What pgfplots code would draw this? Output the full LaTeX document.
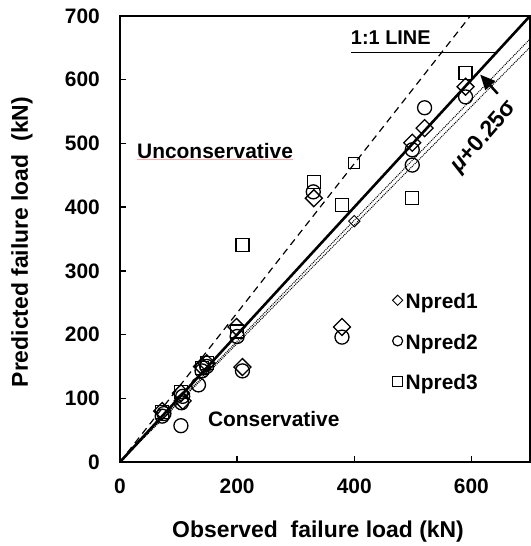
\documentclass[border=0pt]{standalone}
\usepackage{fontspec}
\setmainfont{Liberation Sans}
\usepackage{pgfplots}
\pgfplotsset{compat=1.18}
\usetikzlibrary{arrows.meta}

\begin{document}
\begin{tikzpicture}
\begin{axis}[
  at={(0,0)}, anchor=south west,
  scale only axis, width=410bp, height=446bp,
  xmin=0, xmax=700, ymin=0, ymax=700,
  xtick={0,200,400,600}, ytick={0,100,...,700},
  xtick pos=bottom, ytick pos=left, tick align=inside,
  major tick length=6bp,
  axis line style={line width=2bp},
  every tick/.style={black, line width=1.5bp},
  /pgf/number format/assume math mode=true,
  ticklabel style={font=\fontsize{21}{24}\selectfont\bfseries, inner sep=0pt},
  yticklabel style={xshift=-20bp},
  xticklabel style={yshift=-17bp},
  xlabel={Observed\ \ failure load (kN)},
  ylabel={Predicted failure load\ \ (kN)},
  label style={font=\fontsize{23}{26}\selectfont\bfseries},
  xlabel style={at={(axis description cs:0.483,-0.155)}, anchor=center},
  ylabel style={at={(axis description cs:-0.239,0.493)}, anchor=center},
  clip=false,
  legend style={draw=none, fill=none, at={(axis cs:465,268)}, anchor=north west,
    font=\fontsize{21}{24}\selectfont\bfseries, row sep=20bp, inner sep=0pt,
    /tikz/every odd column/.append style={column sep=1bp}},
  legend cell align=left,
  legend image code/.code={\draw[#1] plot coordinates {(0bp,1.5bp)};},
]
% reference lines
\addplot[line width=2.6bp, forget plot] coordinates {(0,0) (700,700)};
\addplot[line width=1.2bp, dash pattern=on 7bp off 5bp, forget plot] coordinates {(0,0) (598,700)};
\addplot[densely dotted, line width=1bp, forget plot] coordinates {(0,0) (700,664)};
\addplot[densely dotted, line width=1bp, forget plot] coordinates {(0,0) (700,651)};

% Npred1
\addplot[only marks, mark=square, mark size=6bp, mark options={rotate=45, line width=1.3bp}, forget plot] coordinates {
(72,80) (104,108) (107,96) (140,150) (148,155) (199,212) (209,149) (331,414)
(379,212) (499,501) (520,524) (590,589)};
\addplot[only marks, mark=square, mark size=4bp, mark options={rotate=45, line width=1bp}, forget plot] coordinates {(400,378)};
% Npred2
\addplot[only marks, mark=o, mark size=7bp, mark options={line width=1.3bp}, forget plot] coordinates {
(72,72) (75,76) (104,57) (105,93) (107,103) (134,121) (140,143) (148,150)
(200,197) (209,143) (330,424) (379,196) (499,466) (499,490) (520,556) (590,573)};
% Npred3
\addplot[only marks, mark=square, mark size=6.5bp, mark options={line width=1.3bp}, forget plot] coordinates {
(72,79) (104,110) (140,148) (148,155) (200,205) (209,341) (331,440) (379,403)
(498,414) (590,611)};
\addplot[only marks, mark=square, mark size=5.5bp, mark options={line width=1.1bp}, forget plot] coordinates {(399,469)};

\addlegendimage{mark=square, mark size=3.6bp, mark options={rotate=45, line width=1bp}}
\addlegendentry{Npred1}
\addlegendimage{mark=o, mark size=5bp, mark options={line width=1.2bp}}
\addlegendentry{Npred2}
\addlegendimage{mark=square, mark size=5bp, mark options={line width=1.2bp}}
\addlegendentry{Npred3}

% annotations
\node[anchor=west, inner sep=0pt, font=\fontsize{21}{24}\selectfont\bfseries] at (axis cs:29,488) {Unconservative};
\draw[red!35, line width=0.5bp] (axis cs:29,475) -- (axis cs:296,475);
\node[anchor=west, inner sep=0pt, font=\fontsize{21}{24}\selectfont\bfseries] at (axis cs:150,67.5) {Conservative};
\node[anchor=west, inner sep=0pt, font=\fontsize{20}{24}\selectfont\bfseries] at (axis cs:394,666) {1:1 LINE};
\draw[line width=1bp] (axis cs:394,642) -- (axis cs:644,642);
\node[rotate=49, inner sep=0pt, font=\fontsize{23}{26}\selectfont\bfseries] at (axis cs:622,510) {\textit{μ}+0.25σ};
\draw[-{Triangle[length=15bp,width=13bp]}, line width=2.5bp] (axis cs:645,578) -- (axis cs:615,608);
\end{axis}
\pgfresetboundingbox
\useasboundingbox (-120bp,-84bp) rectangle (411bp,462bp);
\end{tikzpicture}
\end{document}
